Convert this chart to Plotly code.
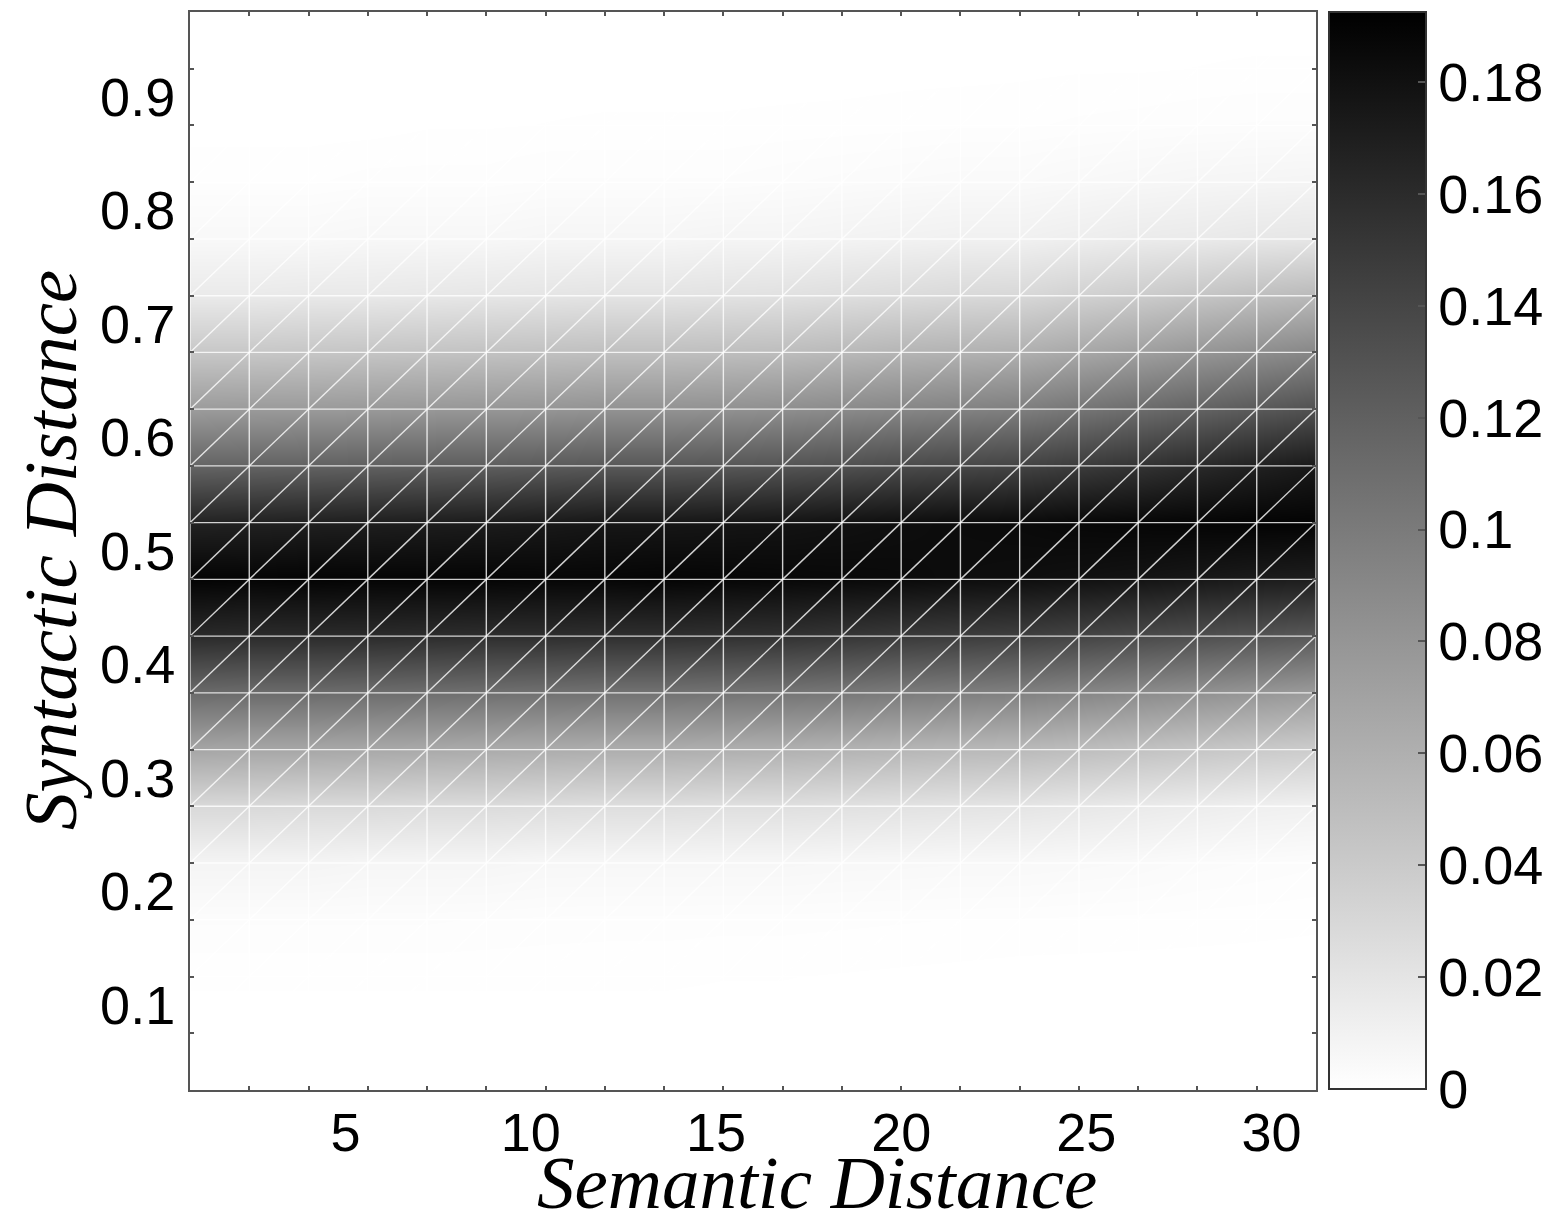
import numpy as np
import plotly.graph_objects as go

# Grid of semantic-distance bins (x) and syntactic-distance bins (y)
semantic_distance = [0.8, 2.4, 4.0, 5.6, 7.2, 8.8, 10.4, 12.0, 13.6, 15.2,
                     16.8, 18.4, 20.0, 21.6, 23.2, 24.8, 26.4, 28.0, 29.6, 31.2]
syntactic_distance = [0.025, 0.075, 0.125, 0.175, 0.225, 0.275, 0.325, 0.375, 0.425, 0.475,
                      0.525, 0.575, 0.625, 0.675, 0.725, 0.775, 0.825, 0.875, 0.925, 0.975]

# Density along syntactic distance, one profile per semantic-distance bin
density_by_semantic = [
    [0, 0, 0.0005, 0.002, 0.008, 0.029, 0.067, 0.112, 0.161, 0.190, 0.167, 0.117, 0.075, 0.042, 0.016, 0.005, 0.001, 0, 0, 0],
    [0, 0, 0.0005, 0.002, 0.008, 0.029, 0.066, 0.111, 0.160, 0.189, 0.168, 0.118, 0.076, 0.042, 0.016, 0.005, 0.001, 0, 0, 0],
    [0, 0, 0.0005, 0.002, 0.008, 0.028, 0.066, 0.111, 0.160, 0.190, 0.169, 0.119, 0.076, 0.043, 0.017, 0.005, 0.001, 0, 0, 0],
    [0, 0, 0.0005, 0.002, 0.007, 0.028, 0.065, 0.110, 0.160, 0.189, 0.170, 0.120, 0.077, 0.044, 0.017, 0.006, 0.0015, 0, 0, 0],
    [0, 0, 0.0005, 0.002, 0.007, 0.027, 0.064, 0.109, 0.159, 0.189, 0.171, 0.121, 0.078, 0.045, 0.018, 0.006, 0.0015, 0.0003, 0, 0],
    [0, 0, 0.0005, 0.0018, 0.007, 0.027, 0.063, 0.108, 0.158, 0.189, 0.172, 0.122, 0.079, 0.046, 0.019, 0.006, 0.0015, 0.0003, 0, 0],
    [0, 0, 0.0005, 0.0016, 0.006, 0.026, 0.062, 0.107, 0.158, 0.188, 0.174, 0.124, 0.080, 0.047, 0.020, 0.007, 0.002, 0.0004, 0, 0],
    [0, 0, 0.0005, 0.0015, 0.006, 0.025, 0.061, 0.106, 0.157, 0.188, 0.176, 0.126, 0.082, 0.048, 0.021, 0.007, 0.002, 0.0005, 0, 0],
    [0, 0, 0.0005, 0.0015, 0.006, 0.025, 0.061, 0.106, 0.157, 0.189, 0.176, 0.126, 0.082, 0.048, 0.021, 0.007, 0.002, 0.0005, 0, 0],
    [0, 0, 0.0004, 0.0014, 0.006, 0.024, 0.060, 0.105, 0.156, 0.188, 0.177, 0.127, 0.083, 0.049, 0.022, 0.008, 0.002, 0.0005, 0, 0],
    [0, 0, 0.0004, 0.0014, 0.006, 0.024, 0.059, 0.104, 0.155, 0.187, 0.178, 0.129, 0.085, 0.050, 0.023, 0.008, 0.0025, 0.0006, 0, 0],
    [0, 0, 0.0003, 0.0013, 0.0055, 0.023, 0.057, 0.102, 0.152, 0.186, 0.180, 0.132, 0.088, 0.053, 0.025, 0.009, 0.003, 0.0007, 0, 0],
    [0, 0, 0.0002, 0.0012, 0.0053, 0.022, 0.055, 0.099, 0.149, 0.185, 0.182, 0.136, 0.091, 0.056, 0.027, 0.010, 0.0035, 0.0008, 0.0001, 0],
    [0, 0, 0.0001, 0.0011, 0.005, 0.021, 0.053, 0.097, 0.147, 0.183, 0.184, 0.139, 0.094, 0.058, 0.029, 0.011, 0.004, 0.001, 0.0001, 0],
    [0, 0, 0, 0.001, 0.005, 0.020, 0.052, 0.095, 0.145, 0.182, 0.185, 0.142, 0.097, 0.060, 0.030, 0.011, 0.004, 0.001, 0.0002, 0],
    [0, 0, 0, 0.0009, 0.0045, 0.018, 0.049, 0.091, 0.141, 0.180, 0.187, 0.148, 0.104, 0.066, 0.035, 0.013, 0.005, 0.0013, 0.0003, 0],
    [0, 0, 0, 0.0008, 0.004, 0.016, 0.046, 0.087, 0.137, 0.178, 0.188, 0.154, 0.111, 0.072, 0.039, 0.015, 0.006, 0.0015, 0.0003, 0],
    [0, 0, 0, 0.0007, 0.003, 0.014, 0.043, 0.083, 0.133, 0.175, 0.189, 0.161, 0.118, 0.079, 0.044, 0.016, 0.007, 0.0018, 0.0004, 0],
    [0, 0, 0, 0.0006, 0.0025, 0.012, 0.040, 0.079, 0.129, 0.172, 0.190, 0.168, 0.125, 0.085, 0.049, 0.018, 0.0075, 0.002, 0.0005, 0],
    [0, 0, 0, 0.0005, 0.002, 0.011, 0.038, 0.075, 0.125, 0.170, 0.190, 0.174, 0.132, 0.091, 0.053, 0.019, 0.008, 0.002, 0.0005, 0],
]

x_tick_values = [5, 10, 15, 20, 25, 30]
y_tick_values = [0.1, 0.2, 0.3, 0.4, 0.5, 0.6, 0.7, 0.8, 0.9]
y_tick_labels = ["0.1", "0.2", "0.3", "0.4", "0.5", "0.6", "0.7", "0.8", "0.9"]
cbar_tick_values = [0, 0.02, 0.04, 0.06, 0.08, 0.10, 0.12, 0.14, 0.16, 0.18]
cbar_tick_labels = ["0", "0.02", "0.04", "0.06", "0.08", "0.1", "0.12", "0.14", "0.16", "0.18"]
density_max = 0.1925

# Figure geometry (pixels)
W, H = 1550, 1214
ML, MR, MT, MB = 190, 234, 12, 124
plot_w = W - ML - MR
plot_h = H - MT - MB
CB_LEFT, CB_WIDTH, CB_LEN = 1329, 97, 1077

label_font = dict(family="Liberation Sans, Arial, sans-serif", size=54, color="black")
title_font = dict(family="Liberation Serif, Times New Roman, serif", size=75, color="black")

# heatmap rows follow syntactic distance
z = np.array(density_by_semantic).T

xmin, xmax = semantic_distance[0], semantic_distance[-1]
ymin, ymax = syntactic_distance[0], syntactic_distance[-1]

fig = go.Figure()
fig.add_trace(go.Heatmap(
    x=semantic_distance, y=syntactic_distance, z=z,
    zsmooth="best", zmin=0, zmax=density_max,
    colorscale=[[0, "#ffffff"], [1, "#000000"]],
    hoverinfo="skip",
    colorbar=dict(
        thickness=CB_WIDTH, thicknessmode="pixels",
        len=CB_LEN, lenmode="pixels",
        x=(CB_LEFT - ML) / plot_w, xanchor="left", xpad=0,
        y=1, yanchor="top", ypad=0,
        outlinewidth=2, outlinecolor="#333333",
        tickvals=cbar_tick_values, ticktext=cbar_tick_labels,
        ticks="inside", ticklen=9, tickwidth=1.5, tickcolor="#555555",
        tickfont=label_font,
    ),
))

# triangulation mesh: vertical, horizontal and diagonal edges through the grid nodes
mx, my = [], []
for xv in semantic_distance:
    mx += [xv, xv, None]
    my += [ymin, ymax, None]
for yv in syntactic_distance:
    mx += [xmin, xmax, None]
    my += [yv, yv, None]
for k in range(len(semantic_distance) - 1):
    for j in range(len(syntactic_distance) - 1):
        mx += [semantic_distance[k], semantic_distance[k + 1], None]
        my += [syntactic_distance[j], syntactic_distance[j + 1], None]
fig.add_trace(go.Scatter(
    x=mx, y=my, mode="lines",
    line=dict(color="rgba(255,255,255,0.8)", width=1.4),
    hoverinfo="skip", showlegend=False,
))

# overlay axes carrying the numeric tick labels
fig.add_trace(go.Scatter(x=[None], y=[None], xaxis="x2", yaxis="y2",
                         mode="markers", showlegend=False, hoverinfo="skip"))

# inner ticks on the left side of the colour bar
cb_bottom_px = MT + CB_LEN
for v in cbar_tick_values[1:]:
    ypx = cb_bottom_px - v / density_max * CB_LEN
    yp = (H - MB - ypx) / plot_h
    fig.add_shape(type="line", xref="paper", yref="paper",
                  x0=(CB_LEFT - ML) / plot_w, x1=(CB_LEFT + 9 - ML) / plot_w,
                  y0=yp, y1=yp, line=dict(color="#555555", width=1.5))

frame = dict(showline=True, linecolor="#555555", linewidth=2, mirror="ticks",
             showgrid=False, zeroline=False, ticks="inside", ticklen=4,
             tickwidth=1.5, tickcolor="#555555", showticklabels=False)

fig.update_layout(
    width=W, height=H,
    margin=dict(l=ML, r=MR, t=MT, b=MB, autoexpand=False),
    paper_bgcolor="white", plot_bgcolor="white",
    showlegend=False,
    xaxis=dict(range=[xmin, xmax], tickvals=semantic_distance, **frame),
    yaxis=dict(range=[ymin, ymax], tickvals=syntactic_distance, **frame),
    xaxis2=dict(range=[xmin, xmax], overlaying="x", anchor="y2", side="bottom",
                tickvals=x_tick_values, ticks="outside", ticklen=1,
                ticklabelstandoff=-6,
                tickcolor="rgba(0,0,0,0)", showline=False, showgrid=False,
                zeroline=False, tickfont=label_font),
    yaxis2=dict(range=[ymin, ymax], overlaying="y", anchor="x2", side="left",
                tickvals=y_tick_values, ticktext=y_tick_labels, ticks="outside",
                ticklen=3, tickcolor="rgba(0,0,0,0)", showline=False,
                showgrid=False, zeroline=False, tickfont=label_font),
    annotations=[
        dict(text="<i>Semantic Distance</i>", xref="paper", yref="paper",
             x=(817 - ML) / plot_w, y=(H - MB - 1182) / plot_h,
             xanchor="center", yanchor="middle", showarrow=False, font=title_font),
        dict(text="<i>Syntactic Distance</i>", xref="paper", yref="paper",
             x=(50 - ML) / plot_w, y=(H - MB - 550) / plot_h, textangle=-90,
             xanchor="center", yanchor="middle", showarrow=False, font=title_font),
    ],
)

fig.write_html("out.html")
